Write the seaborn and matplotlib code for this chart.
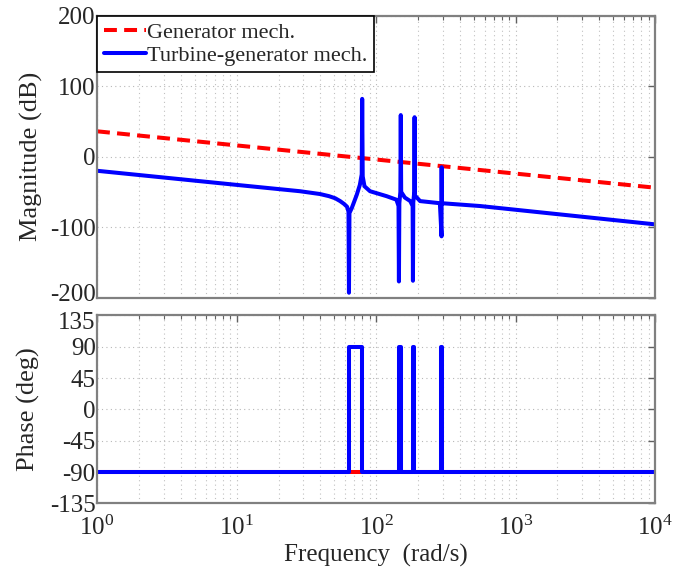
import numpy as np
import pandas as pd
import matplotlib
matplotlib.use("Agg")
import matplotlib.pyplot as plt
import matplotlib.transforms as mtrans
import seaborn as sns
from matplotlib.ticker import LogLocator, NullFormatter

# magnitude (rad/s, dB)
gen_freq = [1, 10000]
gen_mag = [36, -44]

tg_freq = [1, 10, 28.5, 39.7, 46, 51, 55.3, 59, 62, 63.5, 64, 64.5, 67,
           72.8, 76.6, 79, 79.6, 80.3, 82.7, 90.6, 119, 140, 145, 146, 147,
           149.5, 150.5, 151.5, 161, 176, 183, 184, 185, 188, 189, 190, 207,
           287, 295, 295.5, 296, 556, 776, 10000]
tg_mag = [-20, -40, -49, -53, -56, -59, -63, -67, -71, -78, -193, -80, -73,
          -54, -40, -25, 82, -28, -42, -49, -56, -61, -70, -177, -66,
          -50, 59, -50, -58, -63, -70, -176, -65, -50, 56, -55, -63,
          -66, -113, -15, -66, -70, -73, -96]

# phase (deg)
gen_ph_freq = [1, 10000]
gen_ph = [-90, -90]
tg_ph_freq = [1, 64, 64, 79.6, 79.6, 147, 147, 150, 150, 185, 185, 188,
              188, 294.5, 294.5, 295.5, 295.5, 10000]
tg_ph = [-90, -90, 90, 90, -90, -90, 90, 90, -90, -90, 90, 90,
         -90, -90, 90, 90, -90, -90]

sns.set_theme(style="white")
plt.rcParams['font.family'] = ['Liberation Serif', 'DejaVu Serif']
plt.rcParams['mathtext.fontset'] = 'custom'
plt.rcParams['mathtext.rm'] = 'Liberation Serif'
plt.rcParams['axes.unicode_minus'] = False

fig = plt.figure(figsize=(6.77, 5.74), dpi=100)
ax1 = fig.add_axes([0.1433, 0.4814, 0.8242, 0.4913])
ax2 = fig.add_axes([0.1433, 0.1230, 0.8242, 0.3275])

lw = 2.9
dash = (0, (3.2, 1.8))

sns.lineplot(x=gen_freq, y=gen_mag, ax=ax1, color='red', lw=lw,
             linestyle=dash, sort=False, estimator=None,
             label='Generator mech.')
sns.lineplot(x=tg_freq, y=tg_mag, ax=ax1, color='blue', lw=lw,
             sort=False, estimator=None, label='Turbine-generator mech.')

sns.lineplot(x=gen_ph_freq, y=gen_ph, ax=ax2, color='red', lw=lw,
             sort=False, estimator=None)
sns.lineplot(x=tg_ph_freq, y=tg_ph, ax=ax2, color='blue', lw=lw,
             sort=False, estimator=None)

for ax in (ax1, ax2):
    ax.set_xscale('log')
    ax.set_xlim(1, 10000)
    ax.xaxis.set_major_locator(LogLocator(base=10, numticks=10))
    ax.xaxis.set_minor_locator(LogLocator(base=10, subs=np.arange(2, 10), numticks=50))
    ax.xaxis.set_minor_formatter(NullFormatter())
    ax.grid(True, which='major', color='#b8b8b8', ls=(0, (1, 3)), lw=0.8)
    ax.grid(True, which='minor', axis='x', color='#c0c0c0', ls=(0, (1, 3)), lw=0.8)
    ax.tick_params(which='both', direction='in', top=True, right=True,
                   color='#606060', labelsize=18, pad=1)
    ax.tick_params(which='major', length=5, width=1)
    ax.tick_params(which='minor', length=3, width=0.8)
    for s in ax.spines.values():
        s.set_color('#808080')
        s.set_linewidth(1.6)

ax1.set_ylim(-200, 200)
ax1.set_yticks([-200, -100, 0, 100, 200])
ax1.set_xticklabels([])
ax1.set_ylabel('Magnitude (dB)', fontsize=19, labelpad=5)

ax2.set_ylim(-135, 135)
ax2.set_yticks([-135, -90, -45, 0, 45, 90, 135])
ax2.set_ylabel('Phase (deg)', fontsize=19, labelpad=7)
ax2.set_xlabel('Frequency  (rad/s)', fontsize=18, labelpad=3)
ax2.tick_params(axis='x', pad=9)

# nudge the two labels that meet between the panels apart
up = mtrans.ScaledTranslation(0, 4 / 72, fig.dpi_scale_trans)
down = mtrans.ScaledTranslation(0, -4 / 72, fig.dpi_scale_trans)
lab = ax1.get_yticklabels()[0]
lab.set_transform(lab.get_transform() + up)
lab = ax2.get_yticklabels()[-1]
lab.set_transform(lab.get_transform() + down)

leg = ax1.legend(loc='upper left', borderaxespad=0, fancybox=False,
                 framealpha=1, edgecolor='black', fontsize=16,
                 handlelength=1.9, handletextpad=0.05, labelspacing=0.1,
                 borderpad=0.3)
leg.get_frame().set_linewidth(1.2)

fig.savefig('out.png', dpi=100)
